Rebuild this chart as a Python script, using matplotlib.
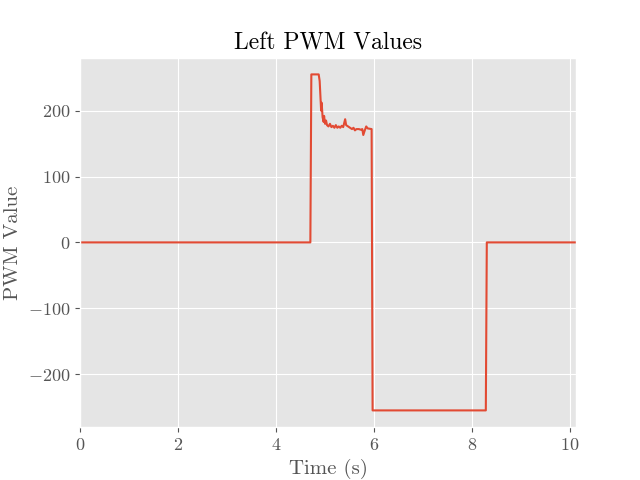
import numpy as np
import matplotlib
matplotlib.use("Agg")
import matplotlib.pyplot as plt

plt.style.use("ggplot")
plt.rcParams["font.family"] = "serif"
plt.rcParams["font.serif"] = ["cmr10"]
plt.rcParams["mathtext.fontset"] = "cm"
plt.rcParams["axes.formatter.use_mathtext"] = True
plt.rcParams["axes.unicode_minus"] = True

# Left PWM log (time in s, value)
time = [0.0, 4.70, 4.72, 4.87, 4.89, 4.91, 4.92, 4.93, 4.95, 4.97, 4.98, 5.00,
        5.02, 5.04, 5.07, 5.10, 5.13, 5.16, 5.19, 5.22, 5.25, 5.28, 5.31, 5.34,
        5.37, 5.41, 5.43, 5.47, 5.51, 5.55, 5.58, 5.61, 5.64, 5.69, 5.73, 5.76,
        5.78, 5.81, 5.84, 5.87, 5.95, 5.97, 8.28, 8.30, 10.12]
pwm = [0, 0, 255, 255, 245, 215, 200, 212, 190, 183, 192, 180,
       185, 178, 176, 180, 175, 177, 174, 178, 174, 176, 174, 177,
       175, 187, 178, 176, 174, 172, 174, 170, 172, 172, 171, 172,
       163, 170, 176, 173, 172, -255, -255, 0, 0]

fig, ax = plt.subplots(figsize=(6.4, 4.8), dpi=100)
ax.plot(time, pwm, color="#E24A33", lw=1.5)
ax.set_xlim(0, time[-1])
ax.set_title("Left PWM Values", fontsize=17)
ax.set_xlabel("Time (s)", fontsize=15)
ax.set_ylabel("PWM Value", fontsize=15)
ax.tick_params(labelsize=13)

plt.savefig("out.png", dpi=100)
